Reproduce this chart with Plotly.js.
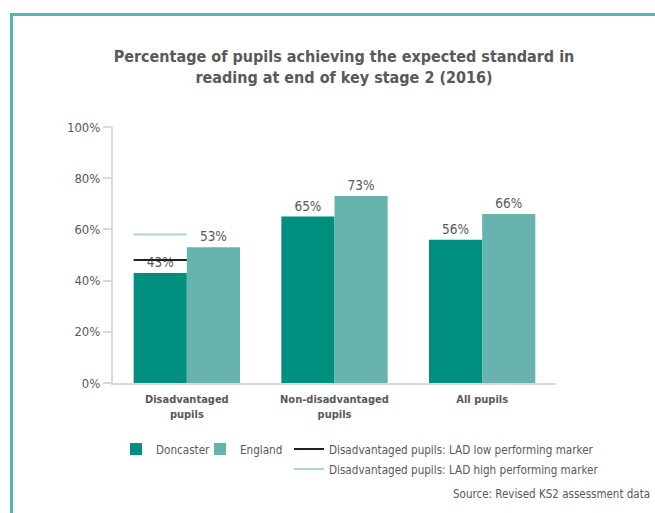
<!DOCTYPE html>
<html>
<head>
<meta charset="utf-8">
<script src="https://cdn.plot.ly/plotly-3.0.1.min.js"></script>
<style>
  html, body { margin: 0; padding: 0; background: #fff; }
  #chart { width: 655px; height: 513px; }
</style>
</head>
<body>
<div id="chart"></div>
<script>
// ---- data ----
const categories = ['Disadvantaged<br>pupils', 'Non-disadvantaged<br>pupils', 'All pupils'];
const doncaster = [43, 65, 56];
const england = [53, 73, 66];
const lowMarker = [48];   // LAD low performing marker (disadvantaged pupils)
const highMarker = [58];  // LAD high performing marker (disadvantaged pupils)
const yTicks = [0, 20, 40, 60, 80, 100];

// ---- styling / layout helpers ----
const FONT = '"DejaVu Sans Condensed", "Liberation Sans Narrow", "Arial Narrow", sans-serif';
const TXT = '#595959';
const C_DON = '#008e7f';
const C_ENG = '#67b3ae';
const AXIS = '#d9d9d9';
const BORDER = '#4fb7ad';
const bargap = 0.28;

// plot area in pixels
const L = 113, R = 556, T = 127, B = 383, W = 655, H = 513;
const px2x = p => (p - L) / (R - L);
const py2y = p => (B - p) / (B - T);

const xIdx = categories.map((_, i) => i);
const groupW = 1 - bargap;
// marker line spans the Doncaster bar of the first category
const markX = [xIdx[0] - groupW / 2, xIdx[0]];

const traces = [
  {
    type: 'bar', name: 'Doncaster', x: xIdx, y: doncaster,
    marker: { color: C_DON },
    text: doncaster.map(v => v + '%'), textposition: 'outside',
    textfont: { family: FONT, size: 13.5, color: TXT },
    cliponaxis: false, legend: 'legend'
  },
  {
    type: 'bar', name: 'England', x: xIdx, y: england,
    marker: { color: C_ENG },
    text: england.map(v => v + '%'), textposition: 'outside',
    textfont: { family: FONT, size: 13.5, color: TXT },
    cliponaxis: false, legend: 'legend2'
  },
  {
    type: 'scatter', mode: 'lines', name: 'Disadvantaged pupils: LAD low performing marker',
    x: markX, y: [lowMarker[0], lowMarker[0]],
    line: { color: '#231f20', width: 2 }, legend: 'legend3'
  },
  {
    type: 'scatter', mode: 'lines', name: 'Disadvantaged pupils: LAD high performing marker',
    x: markX, y: [highMarker[0], highMarker[0]],
    line: { color: '#acd8d4', width: 2 }, legend: 'legend4'
  }
];

const legendBase = {
  orientation: 'h', xanchor: 'left', yanchor: 'middle',
  font: { family: FONT, size: 11.6, color: TXT },
  bgcolor: 'rgba(0,0,0,0)', borderwidth: 0
};

const layout = {
  width: W, height: H,
  margin: { l: L, r: W - R, t: T, b: H - B, pad: 0 },
  paper_bgcolor: '#fff', plot_bgcolor: '#fff',
  font: { family: FONT, color: TXT },
  barmode: 'group', bargap: bargap, bargroupgap: 0,
  title: {
    text: 'Percentage of pupils achieving the expected standard in<br>reading at end of key stage 2 (2016)',
    font: { family: FONT, size: 16, color: TXT, weight: 'bold' },
    xref: 'container', x: 344 / W, xanchor: 'center',
    yref: 'container', y: 1 - 62 / H, yanchor: 'top'
  },
  xaxis: {
    type: 'linear', range: [-0.5, 2.5],
    tickvals: xIdx, ticktext: categories.map(c => '<b>' + c + '</b>'),
    tickfont: { family: FONT, size: 11, color: TXT },
    showgrid: false, zeroline: false,
    showline: true, linecolor: AXIS, linewidth: 2,
    ticks: '', ticklabelstandoff: 5, fixedrange: true
  },
  yaxis: {
    range: [0, 100], tickvals: yTicks, ticktext: yTicks.map(v => v + '%'),
    tickfont: { family: FONT, size: 13, color: TXT },
    showgrid: false, zeroline: false,
    showline: true, linecolor: AXIS, linewidth: 2,
    ticks: 'outside', ticklen: 8, tickwidth: 2, tickcolor: AXIS,
    fixedrange: true
  },
  showlegend: true,
  legend:  Object.assign({}, legendBase, { x: px2x(116), y: py2y(449) }),
  legend2: Object.assign({}, legendBase, { x: px2x(200), y: py2y(449) }),
  legend3: Object.assign({}, legendBase, { x: px2x(289), y: py2y(449) }),
  legend4: Object.assign({}, legendBase, { x: px2x(289), y: py2y(469) }),
  shapes: [
    { type: 'line', xref: 'paper', yref: 'paper',
      x0: px2x(11.5), x1: px2x(11.5), y0: py2y(13), y1: py2y(530),
      line: { color: BORDER, width: 3 } },
    { type: 'line', xref: 'paper', yref: 'paper',
      x0: px2x(10), x1: px2x(670), y0: py2y(14.5), y1: py2y(14.5),
      line: { color: BORDER, width: 3 } }
  ],
  annotations: [
    { text: 'Source: Revised KS2 assessment data', xref: 'paper', yref: 'paper',
      x: px2x(652), y: py2y(494), xanchor: 'right', yanchor: 'middle',
      showarrow: false, font: { family: FONT, size: 11.5, color: TXT } }
  ],
  hovermode: false
};

Plotly.newPlot('chart', traces, layout, { displayModeBar: false, staticPlot: true });
</script>
</body>
</html>
